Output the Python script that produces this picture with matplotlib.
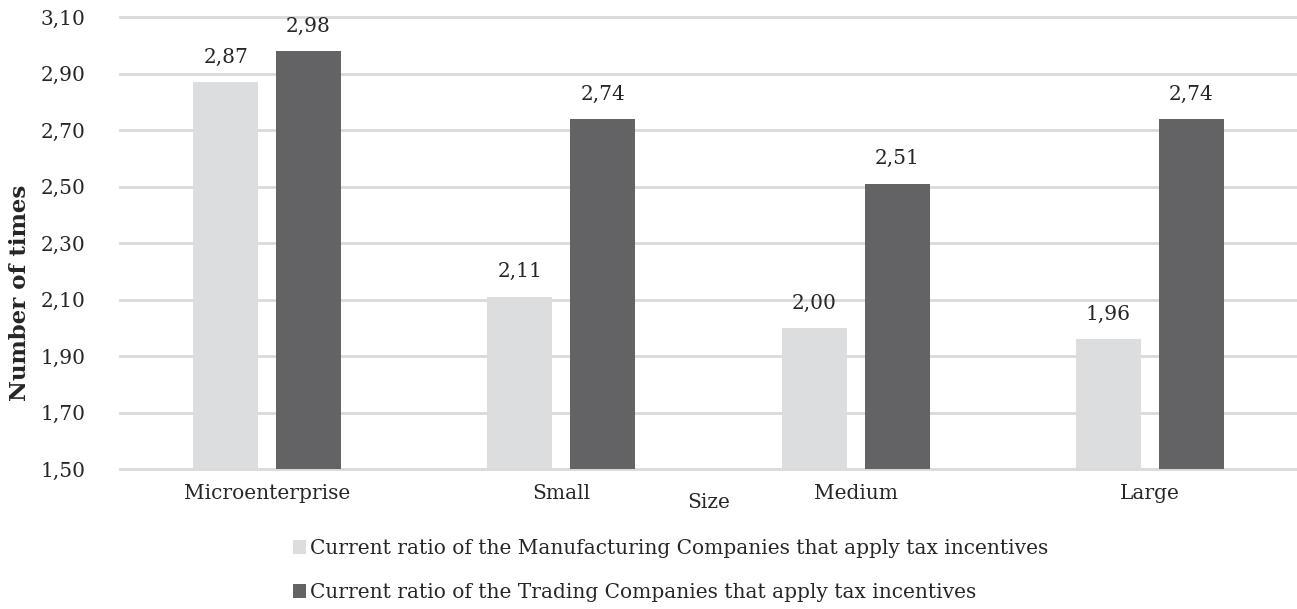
import matplotlib
matplotlib.use("Agg")
import matplotlib.pyplot as plt
import numpy as np
from matplotlib.patches import Patch

plt.rcParams['font.family'] = ['DejaVu Serif']

sizes = ["Microenterprise", "Small", "Medium", "Large"]
manufacturing = [2.87, 2.11, 2.00, 1.96]
trading = [2.98, 2.74, 2.51, 2.74]
series_names = [
    "Current ratio of the Manufacturing Companies that apply tax incentives",
    "Current ratio of the Trading Companies that apply tax incentives",
]
yticks = [1.50, 1.70, 1.90, 2.10, 2.30, 2.50, 2.70, 2.90, 3.10]

light = "#dcdddf"
dark = "#636365"
text_color = "#262626"
fs = 14.5

fig = plt.figure(figsize=(12.97, 6.09), dpi=100)
ax = fig.add_axes([120 / 1297, 1 - 469 / 609, 1177 / 1297, 452 / 609])

x = np.arange(len(sizes))
w = 0.221
off = 0.141
b1 = ax.bar(x - off, manufacturing, w, color=light, zorder=3)
b2 = ax.bar(x + off, trading, w, color=dark, zorder=3)

def fmt(v):
    return f"{v:.2f}".replace(".", ",")

for bars, vals in ((b1, manufacturing), (b2, trading)):
    for r, v in zip(bars, vals):
        ax.annotate(fmt(v), (r.get_x() + r.get_width() / 2, v),
                    xytext=(0, 11), textcoords="offset points",
                    ha="center", va="bottom", fontsize=fs, color=text_color)

ax.set_xlim(-0.5, len(sizes) - 0.5)
ax.set_ylim(1.50, 3.10)
ax.set_yticks(yticks)
ax.set_yticklabels([fmt(t) for t in yticks])
ax.set_xticks(x)
ax.set_xticklabels(sizes)
ax.tick_params(axis="both", length=0, labelsize=fs, labelcolor=text_color)
ax.tick_params(axis="y", pad=25)
ax.tick_params(axis="x", pad=11)
ax.grid(axis="y", color="#d9d9d9", linewidth=2, zorder=0)
for gl in ax.get_ygridlines():
    gl.set_clip_on(False)
for s in ax.spines.values():
    s.set_visible(False)

ax.set_xlabel("Size", fontsize=fs, color=text_color)
ax.set_ylabel("Number of times", fontsize=16.5, fontweight="bold",
              color=text_color)
ax.yaxis.set_label_coords(-89 / 1177, (469 - 293) / 452)
ax.xaxis.set_label_coords(0.5, -24 / 452)

handles = [Patch(facecolor=light), Patch(facecolor=dark)]
leg = fig.legend(handles, series_names, loc="upper left",
                 bbox_to_anchor=(293 / 1297, 1 - 539 / 609),
                 frameon=False, fontsize=fs, labelspacing=1.25,
                 handlelength=0.65, handleheight=0.65, handletextpad=0.2,
                 borderpad=0, borderaxespad=0)
for t in leg.get_texts():
    t.set_color(text_color)

fig.savefig("out.png", dpi=100)
